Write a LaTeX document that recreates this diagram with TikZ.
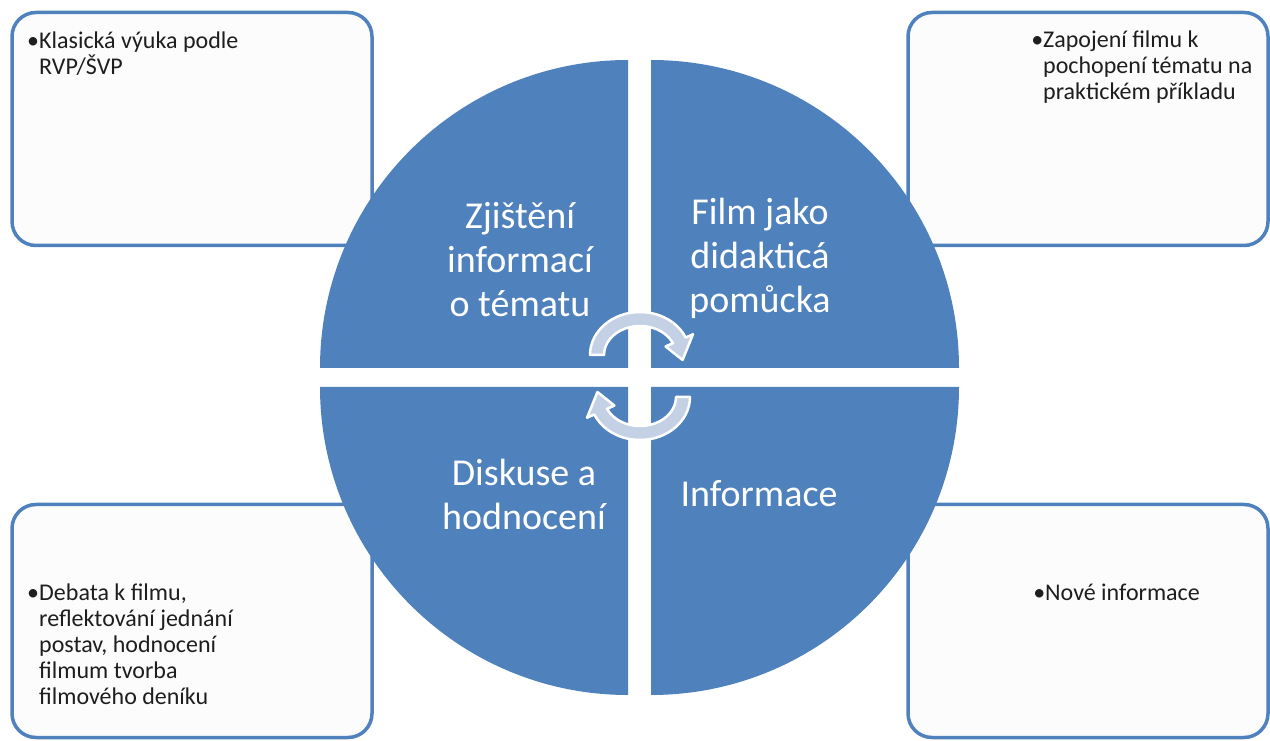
\documentclass[tikz,border=0pt]{standalone}
\usepackage{fontspec}
\setmainfont{Carlito}
\definecolor{quadblue}{RGB}{79,129,189}
\definecolor{boxfill}{RGB}{252,252,252}
\definecolor{cycfill}{RGB}{196,209,229}
\definecolor{notegray}{RGB}{30,30,30}
\begin{document}
\begin{tikzpicture}[x=1pt, y=1pt,
  infobox/.style={draw=quadblue, line width=3.5pt, fill=boxfill, rounded corners=24pt,
    minimum width=360pt, minimum height=233pt, inner sep=0pt},
  notetext/.style={text=notegray, font=\fontsize{24}{26}\selectfont, align=left,
    inner sep=0pt, anchor=base west},
  quadrant/.style={fill=quadblue},
  quadlabel/.style={text=white, font=\fontsize{38}{44}\selectfont, align=center, inner sep=0pt},
  cycarrow/.style={fill=cycfill, draw=white, line width=2.5pt, line join=round}]

\useasboundingbox (0,0) rectangle (1270,740);

% Draw boxes
\node[infobox] (boxTL) at (192,611) {};
\node[infobox] (boxTR) at (1088,611) {};
\node[infobox] (boxBL) at (192,119) {};
\node[infobox] (boxBR) at (1088,119) {};

% Draw quadrants
\fill[quadrant] (628,372) -- (320,372) arc[start angle=180, end angle=90, radius=308] -- cycle; % top left
\fill[quadrant] (651,372) -- (651,680) arc[start angle=90, end angle=0, radius=308] -- cycle; % top right
\fill[quadrant] (628,353) -- (628,45) arc[start angle=270, end angle=180, radius=308] -- cycle; % bottom left
\fill[quadrant] (651,353) -- (959,353) arc[start angle=0, end angle=-90, radius=308] -- cycle; % bottom right

% Draw arrows
\begin{scope}[shift={(640,385)}]
  \draw[cycarrow] (180:50 and 43) arc[start angle=180, end angle=24, x radius=50, y radius=43]
    -- (24:58 and 51) -- (-8:43 and 36) -- (24:28 and 21) -- (24:36 and 29)
    arc[start angle=24, end angle=180, x radius=36, y radius=29] -- cycle;
\end{scope}
\begin{scope}[shift={(640,343)}, rotate=180]
  \draw[cycarrow] (180:50 and 43) arc[start angle=180, end angle=24, x radius=50, y radius=43]
    -- (24:58 and 51) -- (-8:43 and 36) -- (24:28 and 21) -- (24:36 and 29)
    arc[start angle=24, end angle=180, x radius=36, y radius=29] -- cycle;
\end{scope}

% Label quadrants
\node[quadlabel] (qTL) at (520,480) {Zjištění\\informací\\o tématu};
\node[quadlabel] (qTR) at (760,482) {Film jako\\didakticá\\pomůcka};
\node[quadlabel] (qBL) at (524,246) {Diskuse a\\hodnocení};
\node[quadlabel] (qBR) at (759,246) {Informace};

% Box texts (anchored at the last line)
\node[notetext] (nTL) at (39,665) {\llap{•}Klasická výuka podle\\RVP/ŠVP};
\node[notetext] (nTR) at (1043,640) {\llap{•}Zapojení filmu k\\pochopení tématu na\\praktickém příkladu};
\node[notetext] (nBL) at (39,36) {\llap{•}Debata k filmu,\\reflektování jednání\\postav, hodnocení\\filmum tvorba\\filmového deníku};
\node[notetext] (nBR) at (1045,140) {\llap{•}Nové informace};

\end{tikzpicture}
\end{document}
